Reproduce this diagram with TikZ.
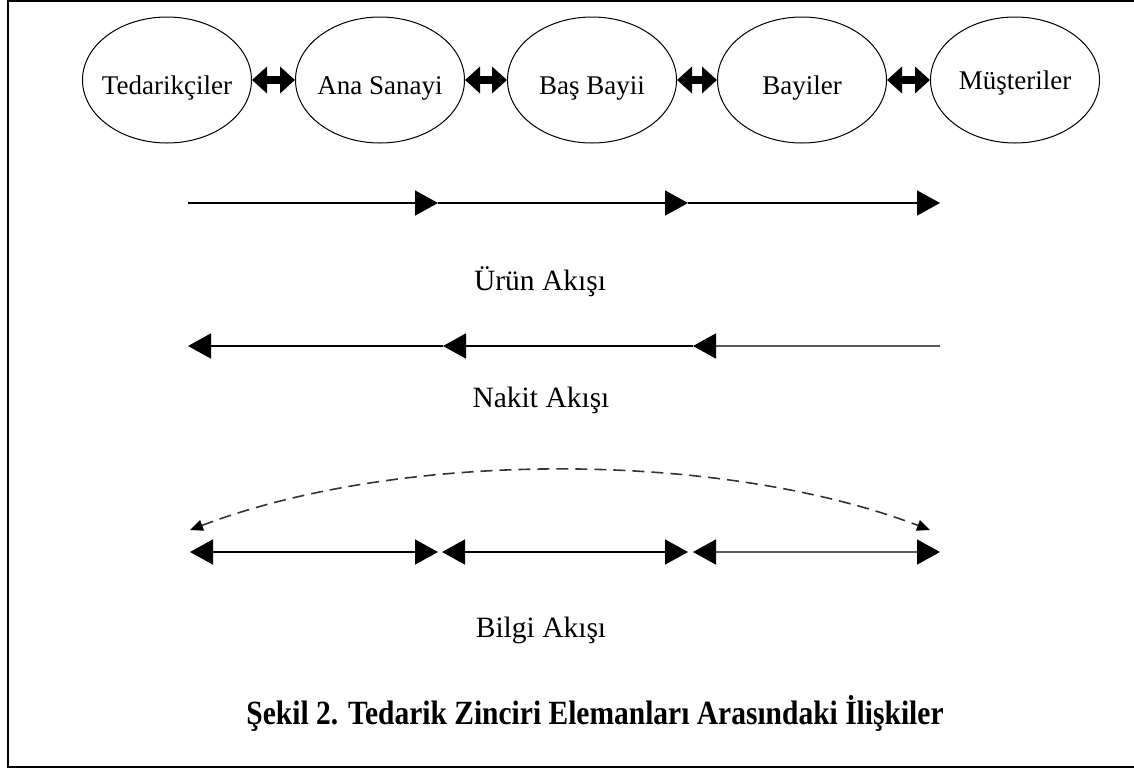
\documentclass[tikz,border=0pt]{standalone}
\usepackage{fontspec}
\setmainfont{Liberation Serif}
\usetikzlibrary{positioning,shapes.geometric,arrows.meta}

\begin{document}
\begin{tikzpicture}[x=1pt,y=-1pt,font=\fontsize{27}{30}\selectfont,
    actor/.style={draw,ellipse,line width=1pt,minimum width=169pt,minimum height=126pt,inner sep=0pt},
    actortext/.style={inner sep=0pt,anchor=base},
    link/.style={{Triangle[length=15pt,width=26pt]}-{Triangle[length=15pt,width=26pt]},line width=8pt},
    flow/.style={line width=1.6pt,-{Triangle[length=23pt,width=25pt,color=black]}},
    both/.style={line width=1.6pt,{Triangle[length=23pt,width=25pt,color=black]}-{Triangle[length=23pt,width=25pt,color=black]}},
    lbl/.style={inner sep=0pt,font=\fontsize{29.5}{32}\selectfont}]
  \useasboundingbox (0,0) rectangle (1134,769);
  % frame (right side runs off the page)
  \draw[line width=2.2pt] (8,1) rectangle (1160,767);
  % supply chain members
  \node[actor] (ted) at (167,80) {};
  \node[actor] (ana) at (380,80) {};
  \node[actor] (bas) at (592,80) {};
  \node[actor] (bay) at (802,80) {};
  \node[actor] (mus) at (1015,80) {};
  \node[actortext] (tedT) at (167,94) {Tedarikçiler};
  \node[actortext] (anaT) at (380,94) {Ana Sanayi};
  \node[actortext] (basT) at (592,94) {Baş Bayii};
  \node[actortext] (bayT) at (802,94) {Bayiler};
  \node[actortext] (musT) at (1015,89) {Müşteriler};
  \draw[link] (ted) -- (ana);
  \draw[link] (ana) -- (bas);
  \draw[link] (bas) -- (bay);
  \draw[link] (bay) -- (mus);
  % product flow
  \coordinate (u0) at (188,203);
  \coordinate (u1) at (438,203);
  \coordinate (u2) at (688,203);
  \coordinate (u3) at (940,203);
  \draw[flow] (u0) -- (u1);
  \draw[flow] (u1) -- (u2);
  \draw[flow] (u2) -- (u3);
  \node[lbl] (urun) at (540,282) {Ürün Akışı};
  % cash flow
  \coordinate (n0) at (188,346);
  \coordinate (n1) at (443,346);
  \coordinate (n2) at (693,346);
  \coordinate (n3) at (940,346);
  \draw[flow,black!65] (n3) -- (n2);
  \draw[flow] (n2) -- (n1);
  \draw[flow] (n1) -- (n0);
  \node[lbl] (nakit) at (541,400) {Nakit Akışı};
  % information flow
  \coordinate (b0) at (190,552);
  \coordinate (b1) at (438,552);
  \coordinate (b2) at (442,552);
  \coordinate (b3) at (688,552);
  \coordinate (b4) at (693,552);
  \coordinate (b5) at (940,552);
  \draw[both] (b0) -- (b1);
  \draw[both] (b2) -- (b3);
  \draw[both,black!65] (b4) -- (b5);
  \coordinate (d0) at (190,530);
  \coordinate (d1) at (930,530);
  \draw[dashed,line width=1.6pt,black!80,dash pattern=on 12pt off 7pt,
        {Triangle[length=13pt,width=11pt,color=black]}-{Triangle[length=13pt,width=11pt,color=black]}]
    (d0) .. controls (400,450) and (720,450) .. (d1);
  \node[lbl] (bilgi) at (541,630) {Bilgi Akışı};
  % caption
  \node[lbl,font=\fontsize{29.5}{32}\selectfont\bfseries] (cap) at (595,713)
    {\scalebox{1}[1.15]{Şekil 2. Tedarik Zinciri Elemanları Arasındaki İlişkiler}};
\end{tikzpicture}
\end{document}
